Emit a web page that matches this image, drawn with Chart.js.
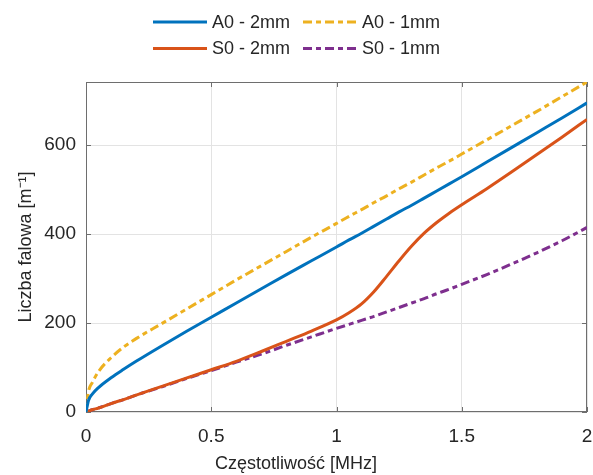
<!DOCTYPE html>
<html>
<head>
<meta charset="utf-8">
<script src="https://cdn.jsdelivr.net/npm/chart.js@4.4.1/dist/chart.umd.min.js"></script>
<style>
  body { margin: 0; background: #fff; }
</style>
</head>
<body>
<canvas id="waveChart" width="593" height="475"></canvas>
<script>
// frequency [MHz] and wavenumber [1/m]
var freq    = [0, 0.01, 0.025, 0.05, 0.1, 0.15, 0.2, 0.3, 0.4, 0.5, 0.6, 0.7, 0.8, 0.9, 1.0, 1.05, 1.1, 1.15, 1.2, 1.25, 1.3, 1.35, 1.4, 1.45, 1.5, 1.6, 1.7, 1.8, 1.9, 2.0];
var a0_2mm  = [0, 26, 40, 55, 77, 96, 114, 148, 181, 213, 245, 277, 309, 340, 371, 387, 402, 418, 434, 450, 465, 481, 497, 513, 529, 562, 595, 628, 661, 695];
var a0_1mm  = [0, 46, 66, 91, 122, 146, 165, 198, 231, 264, 297, 329, 361, 393, 424, 440, 455, 471, 486, 502, 517, 533, 549, 564, 580, 612, 644, 676, 709, 742];
var s0_2mm  = [0, 2, 5, 9, 19, 28, 38, 57, 76, 95, 114, 136, 159, 182, 207, 223, 243, 271, 305, 340, 373, 402, 426, 447, 466, 502, 540, 579, 618, 658];
var s0_1mm  = [0, 2, 5, 9, 19, 28, 38, 56, 75, 93, 112, 130, 150, 169, 188, 197, 206, 215, 225, 235, 245, 255, 266, 276, 287, 309, 333, 358, 385, 415];

var seriesNames = ['A0 - 2mm', 'A0 - 1mm', 'S0 - 2mm', 'S0 - 1mm'];
var xTicks = [0, 0.5, 1, 1.5, 2];
var yTicks = [0, 200, 400, 600];
var xTitle = 'Częstotliwość [MHz]';
var yTitle = 'Liczba falowa [m⁻¹]';

var FONT = '"Liberation Sans", Arial, Helvetica, sans-serif';
var TEXT = '#262626';

function toPoints(ys) {
  return freq.map(function (f, i) { return { x: f, y: ys[i] }; });
}

function line(label, ys, color, dash) {
  return {
    label: label,
    data: toPoints(ys),
    borderColor: color,
    backgroundColor: color,
    borderWidth: 3,
    borderDash: dash,
    pointRadius: 0,
    fill: false,
    cubicInterpolationMode: 'monotone'
  };
}

// matlab-like box, inward ticks, 2x2 legend and x label
var matlabBits = {
  id: 'matlabBits',
  beforeDatasetsDraw: function (chart) {
    var a = chart.chartArea, c = chart.ctx;
    var xs = chart.scales.x, ys = chart.scales.y;
    c.save();
    c.strokeStyle = '#6e6e6e';
    c.lineWidth = 1;
    c.strokeRect(a.left + 0.5, a.top + 0.5, a.right - a.left - 1, a.bottom - a.top - 1);
    c.beginPath();
    xTicks.forEach(function (v) {
      var px = Math.round(xs.getPixelForValue(v)) + 0.5;
      c.moveTo(px, a.bottom); c.lineTo(px, a.bottom - 5);
      c.moveTo(px, a.top); c.lineTo(px, a.top + 5);
    });
    yTicks.forEach(function (v) {
      var py = Math.round(ys.getPixelForValue(v)) + 0.5;
      c.moveTo(a.left, py); c.lineTo(a.left + 5, py);
      c.moveTo(a.right, py); c.lineTo(a.right - 5, py);
    });
    c.stroke();
    c.restore();
  },
  afterDraw: function (chart) {
    var c = chart.ctx;
    c.save();
    c.font = '18px ' + FONT;
    c.textBaseline = 'middle';
    chart.data.datasets.forEach(function (ds, i) {
      var x0 = 153 + (i % 2) * 150;
      var y = 22 + Math.floor(i / 2) * 26.5;
      c.strokeStyle = ds.borderColor;
      c.lineWidth = ds.borderWidth;
      c.setLineDash(ds.borderDash || []);
      c.beginPath();
      c.moveTo(x0, y); c.lineTo(x0 + 54, y);
      c.stroke();
      c.setLineDash([]);
      c.fillStyle = TEXT;
      c.textAlign = 'left';
      c.fillText(ds.label, x0 + 59, y + 1);
    });
    c.textAlign = 'center';
    c.fillText(xTitle, 296, 464);
    c.restore();
  }
};

var ctx = document.getElementById('waveChart').getContext('2d');
var chart = new Chart(ctx, {
  type: 'line',
  data: {
    datasets: [
      line(seriesNames[0], a0_2mm, '#0072BD', []),
      line(seriesNames[1], a0_1mm, '#EDB120', [9, 4, 5, 4]),
      line(seriesNames[2], s0_2mm, '#D95319', []),
      line(seriesNames[3], s0_1mm, '#7E2F8E', [9, 4, 5, 4])
    ]
  },
  options: {
    responsive: false,
    animation: false,
    devicePixelRatio: 1,
    layout: { padding: { top: 82, right: 6, left: 0, bottom: 0 } },
    plugins: {
      legend: { display: false },
      tooltip: { enabled: false }
    },
    scales: {
      x: {
        type: 'linear',
        min: 0,
        max: 2,
        afterBuildTicks: function (s) { s.ticks = xTicks.map(function (v) { return { value: v }; }); },
        afterFit: function (s) { s.height = 63; s.paddingLeft = 0; s.paddingRight = 0; },
        grid: { color: '#e3e3e3', drawTicks: false },
        border: { display: false },
        ticks: {
          padding: 13,
          color: TEXT,
          font: { family: FONT, size: 19 },
          maxRotation: 0,
          callback: function (v) { return String(v); }
        }
      },
      y: {
        type: 'linear',
        min: 0,
        max: 742,
        afterBuildTicks: function (s) { s.ticks = yTicks.map(function (v) { return { value: v }; }); },
        afterFit: function (s) { s.width = 86; },
        grid: { color: '#e3e3e3', drawTicks: false },
        border: { display: false },
        ticks: { padding: 10, color: TEXT, font: { family: FONT, size: 19 } },
        title: {
          display: true,
          text: yTitle,
          color: TEXT,
          font: { family: FONT, size: 18 },
          padding: { top: 15, bottom: 0 }
        }
      }
    }
  },
  plugins: [matlabBits]
});
</script>
</body>
</html>
